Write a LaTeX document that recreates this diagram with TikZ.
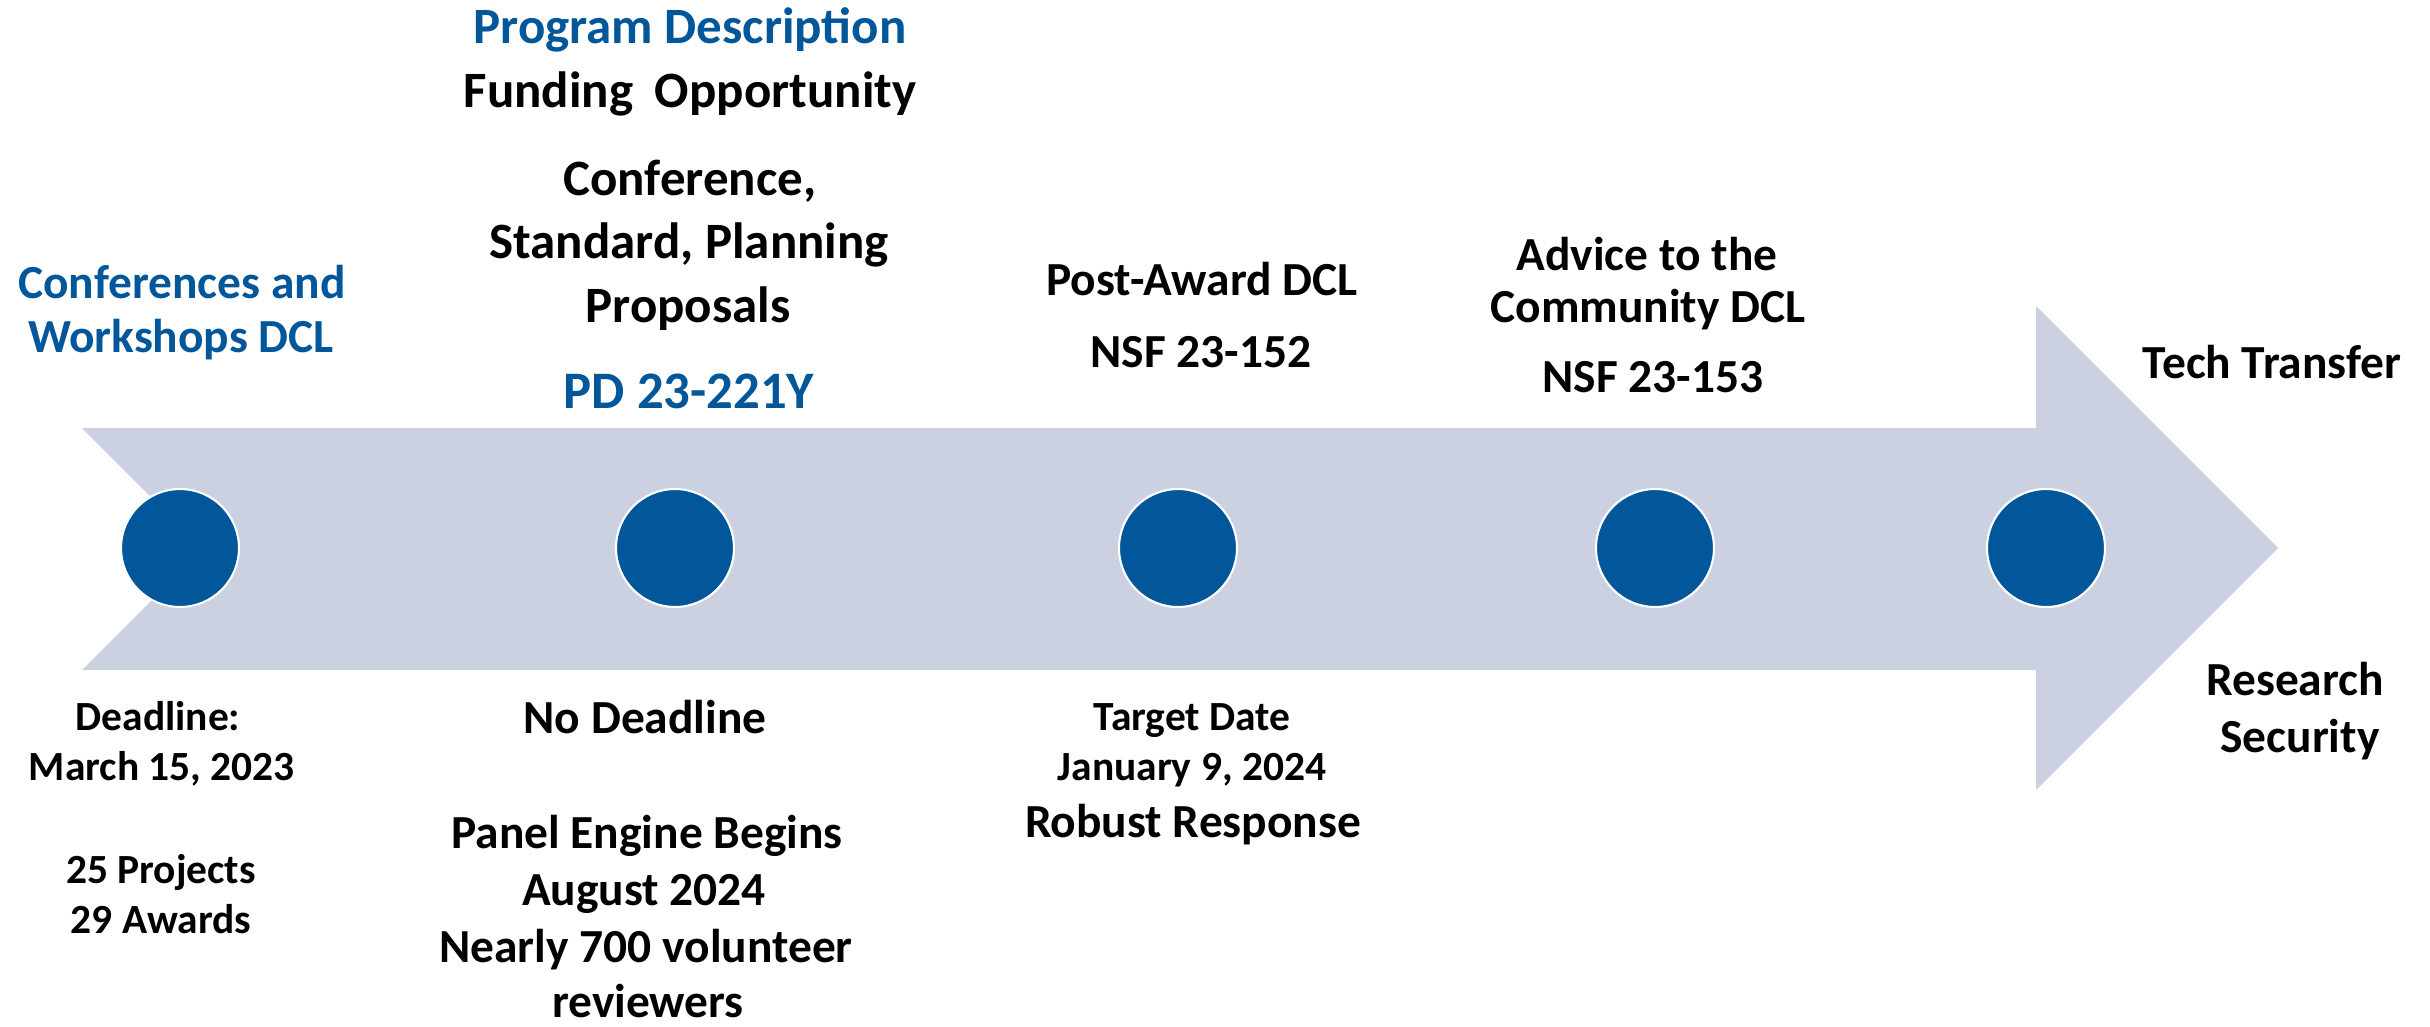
\documentclass[tikz,border=0pt]{standalone}
\usepackage{fontspec}
\setmainfont{Carlito}
\usepackage{xcolor}
\usepackage{tikz}
\usetikzlibrary{positioning}
\definecolor{nsfblue}{RGB}{2, 86, 154}
\definecolor{arrowcolor}{RGB}{203, 209, 224}

\begin{document}
\begin{tikzpicture}[x=0.1mm, y=-0.1mm,
    milestone/.style={circle, fill=nsfblue, draw=white, line width=0.6pt, minimum size=11.8mm, inner sep=0pt},
    txt/.style={anchor=base, inner sep=0pt, font=\bfseries\fontsize{13.5}{16}\selectfont},
    bigtxt/.style={txt, font=\bfseries\fontsize{14.5}{17}\selectfont},
    smalltxt/.style={txt, font=\bfseries\fontsize{11.8}{14}\selectfont},
    bluetxt/.style={text=nsfblue}]
    \useasboundingbox (0,0) rectangle (2430,1026);

    % Timeline arrow
    \fill[arrowcolor] (82,428) -- (2036,428) -- (2036,306) -- (2278,548) -- (2036,790)
        -- (2036,670) -- (82,670) -- (203,549) -- cycle;

    % Milestones
    \node[milestone] (m1) at (180,548) {};
    \node[milestone] (m2) at (675,548) {};
    \node[milestone] (m3) at (1178,548) {};
    \node[milestone] (m4) at (1655,548) {};
    \node[milestone] (m5) at (2046,548) {};

    % Conferences and workshops
    \node[txt, bluetxt] (conf1) at (182,298) {Conferences and};
    \node[txt, bluetxt] (conf2) at (181,352) {Workshops DCL};
    \node[smalltxt] (deadline1) at (158,730) {Deadline:};
    \node[smalltxt] (deadline2) at (162,780) {March 15, 2023};
    \node[smalltxt] (projects) at (161,883) {25 Projects};
    \node[smalltxt] (awards) at (161,933) {29 Awards};

    % Program description
    \node[bigtxt, bluetxt] (progdesc) at (690,43) {Program Description};
    \node[bigtxt] (funding) at (690,107) {Funding\hspace{0.2em} Opportunity};
    \node[bigtxt] (propA) at (690,195) {Conference,};
    \node[bigtxt] (propB) at (689,258) {Standard, Planning};
    \node[bigtxt] (propC) at (688,322) {Proposals};
    \node[bigtxt, bluetxt, font=\bfseries\fontsize{15}{18}\selectfont] (pdnum) at (689,408) {PD 23-221Y};
    \node[txt] (nodeadline) at (645,733) {No Deadline};
    \node[txt] (panel1) at (647,848) {Panel Engine Begins};
    \node[txt] (panel2) at (644,905) {August 2024};
    \node[txt] (panel3) at (646,962) {Nearly 700 volunteer};
    \node[txt] (panel4) at (648,1017) {reviewers};

    % Post-award
    \node[txt] (postaward) at (1202,295) {Post-Award DCL};
    \node[txt] (nsf152) at (1201,367) {NSF 23-152};
    \node[smalltxt] (target1) at (1192,730) {Target Date};
    \node[smalltxt] (target2) at (1192,780) {January 9, 2024};
    \node[txt] (target3) at (1193,837) {Robust Response};

    % Advice to the community
    \node[txt] (advice1) at (1647,270) {Advice to the};
    \node[txt] (advice2) at (1648,322) {Community DCL};
    \node[txt] (nsf153) at (1653,392) {NSF 23-153};

    % Next steps
    \node[txt] (tech) at (2272,378) {Tech Transfer};
    \node[txt] (research1) at (2295,695) {Research};
    \node[txt] (research2) at (2300,752) {Security};
\end{tikzpicture}
\end{document}
